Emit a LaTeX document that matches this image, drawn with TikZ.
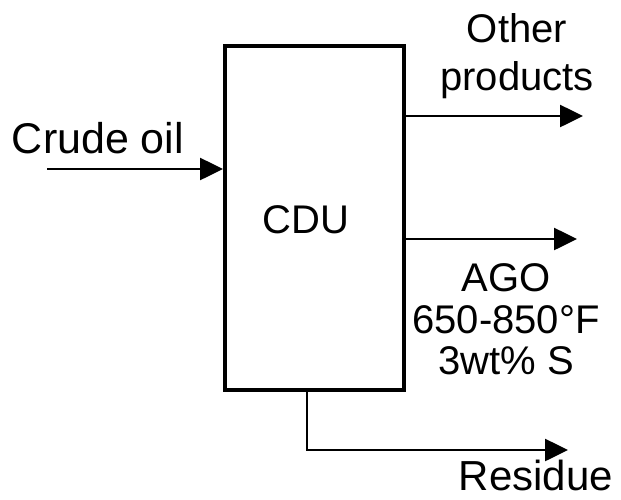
\documentclass[tikz,border=0pt]{standalone}
\usepackage{fontspec}
\setmainfont{Liberation Sans}
\usetikzlibrary{arrows.meta}
\tikzset{
  lbl/.style={inner sep=0pt, anchor=base, font=\fontsize{40}{48}\selectfont},
  lblbig/.style={inner sep=0pt, anchor=base, font=\fontsize{43}{50}\selectfont},
  flow/.style={line width=2.6pt, -{Triangle[length=23pt,width=22pt]}},
  unitbox/.style={draw, line width=4pt, minimum width=179pt, minimum height=344.5pt, inner sep=0pt}
}
\begin{document}
\begin{tikzpicture}[x=1pt,y=-1pt]
\useasboundingbox (0,0) rectangle (621,499);
\node[unitbox] (cdu) at (314.5,217.75) {};
\node[lbl] (cdutext) at (306,233) {CDU};
% labels
\node[lblbig] (crude) at (98,153) {Crude oil};
\node[lbl] (other) at (517,42) {Other};
\node[lbl] (products) at (517,90) {products};
\node[lbl] (ago) at (506,291) {AGO};
\node[lbl] (temp) at (506,333) {650-850\textdegree F};
\node[lbl] (sulf) at (506,374) {3wt\% S};
\node[lbl, font=\fontsize{42}{50}\selectfont] (resid) at (536,490) {Residue};
% coordinates
\coordinate (cin) at (47,169);
\coordinate (opend) at (583,116);
\coordinate (agoend) at (577,239);
\coordinate (rcorner) at (307,450);
\coordinate (rend) at (568,450);
% connectors
\draw[flow] (cin) -- (cin -| cdu.west);
\draw[flow] (cdu.east |- opend) -- (opend);
\draw[flow] (cdu.east |- agoend) -- (agoend);
\draw[flow] (rcorner |- cdu.south) -- (rcorner) -- (rend);
\end{tikzpicture}
\end{document}
